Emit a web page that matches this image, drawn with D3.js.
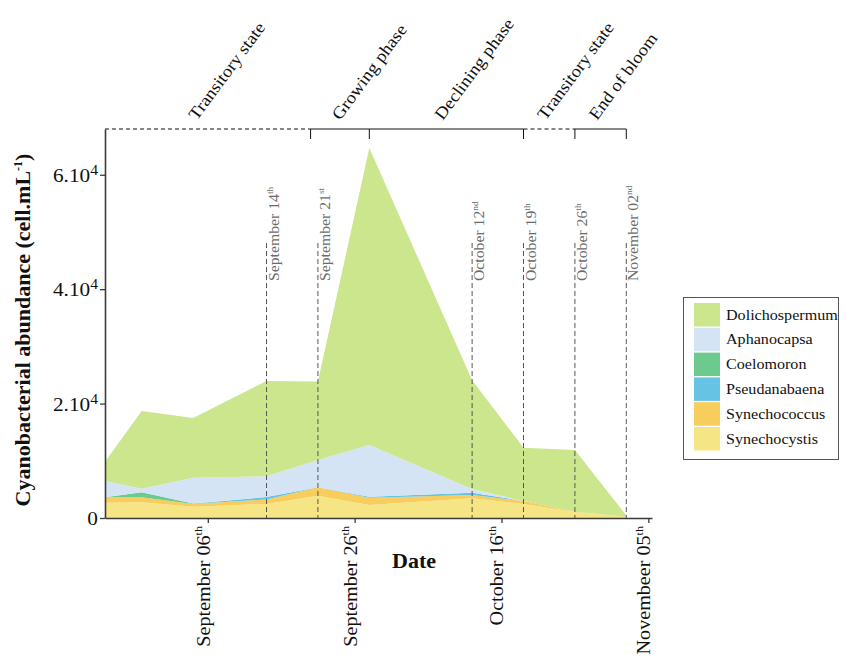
<!DOCTYPE html>
<html>
<head>
<meta charset="utf-8">
<script src="https://cdn.jsdelivr.net/npm/d3@7"></script>
<style>
  body { margin: 0; background: #fff; }
  svg { display: block; }
</style>
</head>
<body>
<svg id="chart" width="846" height="657"></svg>
<script>
// Sampling dates and abundances (cell/mL) per genus
const sampleDates = ["2019-08-23", "2019-08-28", "2019-09-04", "2019-09-14", "2019-09-21",
                     "2019-09-28", "2019-10-12", "2019-10-19", "2019-10-26", "2019-11-02"];
const synechocystis  = [2680, 2750, 1980, 2450, 3900, 2270, 3450, 2450, 1050, 200];
const synechococcus  = [ 940,  870,  470,  790, 1470, 1280,  550,  520,   50,   0];
const pseudanabaena  = [   0,    0,    0,  430,    0,  180,  420,    0,    0,   0];
const coelomoron     = [   0,  870,  100,    0,    0,    0,    0,    0,    0,   0];
const aphanocapsa    = [2850,  640, 4500, 3620, 4780, 9040,  650,    0,    0,   0];
const dolichospermum = [3380, 13570, 10450, 16670, 13700, 51900, 19030, 9330, 10800, 250];

// Stack order, bottom to top
const genera = ["Synechocystis", "Synechococcus", "Pseudanabaena", "Coelomoron", "Aphanocapsa", "Dolichospermum"];
const generaColors = ["#f6e585", "#f7cd5e", "#66c3e4", "#6cca8f", "#d4e4f4", "#cbe68d"];
const seriesByGenus = [synechocystis, synechococcus, pseudanabaena, coelomoron, aphanocapsa, dolichospermum];

// Axis ticks
const xTickDates  = ["2019-09-06", "2019-09-26", "2019-10-16", "2019-11-05"];
const xTickLabels = [["September 06", "th"], ["September 26", "th"], ["October 16", "th"], ["Novembeer 05", "th"]];
const yTickValues = [0, 20000, 40000, 60000];
const yTickLabels = [["0", ""], ["2.10", "4"], ["4.10", "4"], ["6.10", "4"]];

// Weekly sampling markers
const markerDates  = ["2019-09-14", "2019-09-21", "2019-10-12", "2019-10-19", "2019-10-26", "2019-11-02"];
const markerLabels = [["September 14", "th"], ["September 21", "st"], ["October 12", "nd"],
                      ["October 19", "th"], ["October 26", "th"], ["November 02", "nd"]];

// Bloom phases
const phaseNames   = ["Transitory state", "Growing phase", "Declining phase", "Transitory state", "End of bloom"];
const phaseStarts  = ["2019-08-23", "2019-09-20", "2019-09-28", "2019-10-19", "2019-10-26"];
const phaseEnds    = ["2019-09-20", "2019-09-28", "2019-10-19", "2019-10-26", "2019-11-02"];
const phaseDashed  = [true, false, false, true, false];
const phaseLabelAt = ["2019-09-04T12:00Z", "2019-09-24", "2019-10-08", "2019-10-22", "2019-10-29"];

const axisEnd = "2019-11-05T12:00Z";
const yMax = 68000;

const parse = d3.isoParse;
const svg = d3.select("#chart");
const serif = "'Liberation Serif', 'Times New Roman', serif";

const x = d3.scaleUtc().domain([parse(sampleDates[0]), parse(axisEnd)]).range([105, 652]);
const y = d3.scaleLinear().domain([0, yMax]).range([518, 129]);

// Table for the stack
const rows = sampleDates.map((d, i) => {
  const r = { date: parse(d) };
  genera.forEach((g, k) => { r[g] = seriesByGenus[k][i]; });
  return r;
});
const stacked = d3.stack().keys(genera)(rows);
const area = d3.area()
  .x(d => x(d.data.date))
  .y0(d => y(d[0]))
  .y1(d => y(d[1]));

svg.append("g").selectAll("path")
  .data(stacked)
  .join("path")
  .attr("d", area)
  .attr("fill", (d, i) => generaColors[i]);

// Text helper: parts = [main, superscript, tail]
function label(parent, o) {
  const t = parent.append("text")
    .attr("transform", `translate(${o.x},${o.y}) rotate(${o.rotate || 0}) scale(${o.sx || 1},1)`)
    .attr("font-family", serif)
    .attr("font-size", o.size)
    .attr("font-weight", o.weight || "normal")
    .attr("fill", o.fill || "#111")
    .attr("text-anchor", o.anchor || "start");
  const [main, sup, tail] = o.parts;
  t.append("tspan").text(main);
  if (sup) {
    const ss = o.supSize || o.size * 0.6;
    const shift = o.supShift || o.size * 0.4;
    t.append("tspan").attr("font-size", ss).attr("dy", -shift).text(sup);
    if (tail) t.append("tspan").attr("dy", shift).text(tail);
  }
  return t;
}

// Sampling markers
const markers = svg.append("g");
markerDates.forEach((d, i) => {
  const mx = x(parse(d));
  markers.append("line")
    .attr("x1", mx).attr("x2", mx).attr("y1", 243).attr("y2", y(0))
    .attr("stroke", "#555").attr("stroke-width", 1).attr("stroke-dasharray", "5,3");
  label(markers, { x: mx + 12, y: 281, rotate: -90, sx: 1.05, size: 15, fill: "#6b6b6b", parts: markerLabels[i] });
});

// Axes
const xAxis = svg.append("g").attr("transform", `translate(0,${y(0)})`)
  .call(d3.axisBottom(x).tickValues(xTickDates.map(parse)).tickSize(5).tickSizeOuter(0).tickFormat(() => ""));
const yAxis = svg.append("g").attr("transform", `translate(${x.range()[0]},0)`)
  .call(d3.axisLeft(y).tickValues(yTickValues).tickSize(5).tickSizeOuter(0).tickFormat(() => ""));
[xAxis, yAxis].forEach(a => {
  a.select(".domain").attr("stroke", "#3a3a3a").attr("stroke-width", 1.6);
  a.selectAll(".tick line").attr("stroke", "#3a3a3a").attr("stroke-width", 1.3);
});

xTickDates.forEach((d, i) => {
  label(svg, { x: x(parse(d)) + 2, y: 526, rotate: -90, sx: 1.06, size: 19, anchor: "end", parts: xTickLabels[i] });
});
yTickValues.forEach((v, i) => {
  label(svg, { x: 98, y: y(v) + 7, sx: 1.12, size: 19, anchor: "end", supSize: 14, supShift: 7, parts: yTickLabels[i] });
});

// Axis titles
label(svg, { x: 30, y: 330, rotate: -90, size: 22, weight: "bold", anchor: "middle",
             supSize: 12, supShift: 8, parts: ["Cyanobacterial abundance (cell.mL", "-1", ")"] });
label(svg, { x: 414, y: 568, size: 21, weight: "bold", sx: 1.05, anchor: "middle", parts: ["Date"] });

// Phase bar along the top
const phases = svg.append("g");
phaseNames.forEach((name, i) => {
  const x0 = x(parse(phaseStarts[i])), x1 = x(parse(phaseEnds[i]));
  phases.append("line")
    .attr("x1", x0).attr("x2", x1).attr("y1", y(yMax)).attr("y2", y(yMax))
    .attr("stroke", "#111").attr("stroke-width", 1)
    .attr("stroke-dasharray", phaseDashed[i] ? "4,3" : null);
  phases.append("line")
    .attr("x1", x1).attr("x2", x1).attr("y1", y(yMax)).attr("y2", y(yMax) + 10)
    .attr("stroke", "#111").attr("stroke-width", 1);
  label(phases, { x: x(parse(phaseLabelAt[i])), y: 121, rotate: -53.5, sx: 1.1, size: 17, parts: [name] });
});

// Legend, top entry is the top of the stack
const legend = svg.append("g");
legend.append("rect").attr("x", 683.5).attr("y", 297.5).attr("width", 155).attr("height", 162)
  .attr("fill", "#fff").attr("stroke", "#555").attr("stroke-width", 1);
const legendOrder = genera.map((g, i) => i).reverse();
legendOrder.forEach((k, row) => {
  const ly = 303 + row * 24.8;
  legend.append("rect").attr("x", 694).attr("y", ly).attr("width", 26).attr("height", 23.5)
    .attr("fill", generaColors[k]);
  label(legend, { x: 726, y: ly + 16.5, sx: 1.15, size: 14, parts: [genera[k]] });
});
</script>
</body>
</html>
